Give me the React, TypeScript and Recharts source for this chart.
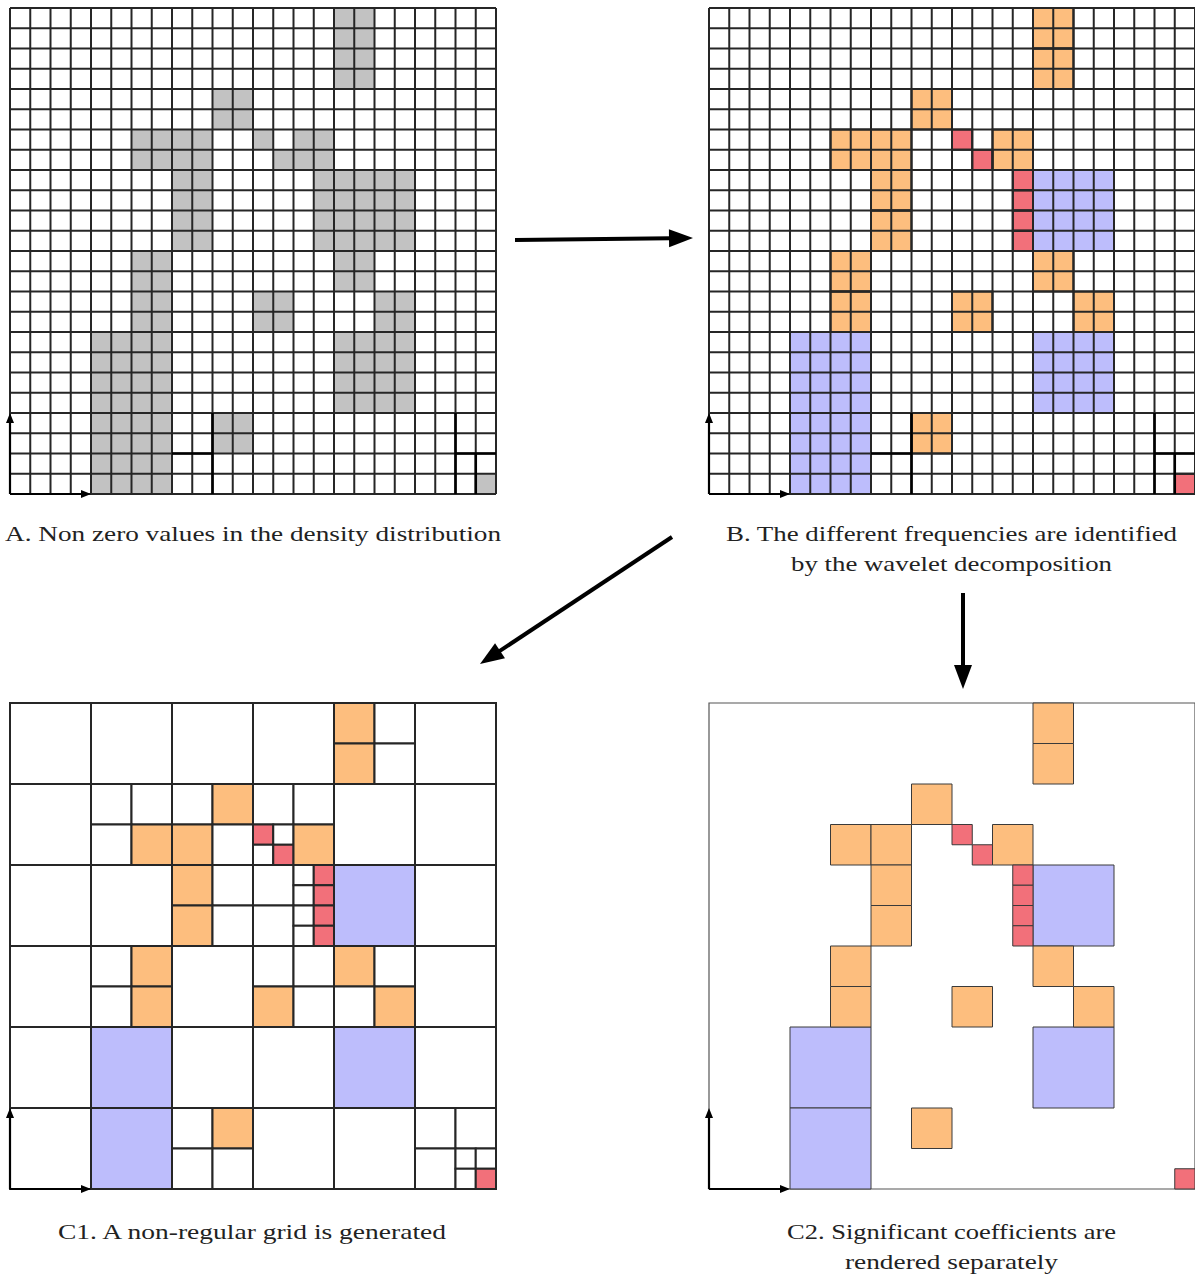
import React from 'react';
import { ComposedChart, XAxis, YAxis, ReferenceArea, ReferenceLine } from 'recharts';

// ---- data (cell units on a 24 x 24 grid, [col, row] from top-left) ----
const GRID_N = 24;
const gridTicks = Array.from({ length: GRID_N + 1 }, (_, i) => i);

// coarse coefficients (4x4 blocks, blue)
const coarseBlocks: number[][] = [[16, 8], [4, 16], [4, 20], [16, 16]];
// medium coefficients (2x2 blocks, orange)
const mediumBlocks: number[][] = [
  [16, 0], [16, 2], [10, 4], [6, 6], [8, 6], [14, 6], [8, 8], [8, 10],
  [6, 12], [6, 14], [16, 12], [12, 14], [18, 14], [10, 20],
];
// fine coefficients (1x1 cells, red)
const fineCells: number[][] = [[12, 6], [13, 7], [15, 8], [15, 9], [15, 10], [15, 11], [23, 23]];

// non-regular grid: 4x4 blocks that are split into 2x2, and 2x2 blocks split into 1x1
const split4: number[][] = [[16, 0], [4, 4], [8, 4], [12, 4], [8, 8], [12, 8], [4, 12], [12, 12], [16, 12], [8, 20], [20, 20]];
const split2: number[][] = [[12, 6], [14, 8], [14, 10], [22, 22]];

// emphasised segments visible in panels A and B ([x1,y1,x2,y2])
const emphasisSegments: number[][] = [[10, 20, 10, 24], [8, 22, 10, 22], [22, 20, 22, 24], [23, 22, 23, 24], [22, 22, 24, 22]];

const captionA = ['A. Non zero values in the density distribution'];
const captionB = ['B. The different frequencies are identified', 'by the wavelet decomposition'];
const captionC1 = ['C1. A non-regular grid is generated'];
const captionC2 = ['C2. Significant coefficients are', 'rendered separately'];

const GRAY = '#c2c2c2';
const BLUE = '#bdbdfc';
const ORANGE = '#fdbe7e';
const RED = '#f2707a';
const LINE = '#262626';

type Cell = { x: number; y: number; s: number; fill: string };

const colouredCells: Cell[] = [
  ...coarseBlocks.map(([x, y]) => ({ x, y, s: 4, fill: BLUE })),
  ...mediumBlocks.map(([x, y]) => ({ x, y, s: 2, fill: ORANGE })),
  ...fineCells.map(([x, y]) => ({ x, y, s: 1, fill: RED })),
];

const has = (list: number[][], x: number, y: number) => list.some(([a, b]) => a === x && b === y);
const colourOf = (x: number, y: number, s: number) => {
  const c = colouredCells.find((k) => k.x === x && k.y === y && k.s === s);
  return c ? c.fill : '#ffffff';
};

const leaves: Cell[] = [];
for (let by = 0; by < GRID_N; by += 4) {
  for (let bx = 0; bx < GRID_N; bx += 4) {
    if (!has(split4, bx, by)) {
      leaves.push({ x: bx, y: by, s: 4, fill: colourOf(bx, by, 4) });
      continue;
    }
    for (const dy of [0, 2]) {
      for (const dx of [0, 2]) {
        const x = bx + dx, y = by + dy;
        if (has(split2, x, y)) {
          for (const ey of [0, 1]) for (const ex of [0, 1]) leaves.push({ x: x + ex, y: y + ey, s: 1, fill: colourOf(x + ex, y + ey, 1) });
        } else {
          leaves.push({ x, y, s: 2, fill: colourOf(x, y, 2) });
        }
      }
    }
  }
}

const axisData = gridTicks.map((t) => ({ x: t, y: t }));

// ---- shapes ----
const ArrowShape = (props: any) => {
  const { x1, y1, x2, y2 } = props;
  if ([x1, y1, x2, y2].some((v) => typeof v !== 'number' || isNaN(v))) return null;
  const ang = Math.atan2(y2 - y1, x2 - x1);
  const len = 10, half = 4;
  const bx = x2 - len * Math.cos(ang), by = y2 - len * Math.sin(ang);
  const px = -Math.sin(ang) * half, py = Math.cos(ang) * half;
  return (
    <g>
      <line x1={x1} y1={y1} x2={bx} y2={by} stroke="#000" strokeWidth={2.2} />
      <polygon points={`${x2},${y2} ${bx + px},${by + py} ${bx - px},${by - py}`} fill="#000" />
    </g>
  );
};

const PAD = 6;
const SIZE = 486;

function Panel({ left, top, children }: { left: number; top: number; children: React.ReactNode }) {
  return (
    <div style={{ position: 'absolute', left: left - PAD, top: top - PAD }}>
      <ComposedChart width={SIZE + 2 * PAD} height={SIZE + 2 * PAD} margin={{ top: PAD, right: PAD, bottom: PAD, left: PAD }} data={axisData}>
        <XAxis type="number" dataKey="x" domain={[0, GRID_N]} hide allowDataOverflow />
        <YAxis type="number" dataKey="y" domain={[0, GRID_N]} reversed hide allowDataOverflow />
        {children}
      </ComposedChart>
    </div>
  );
}

const originArrows = [
  <ReferenceLine key="ay" segment={[{ x: 0, y: 24 }, { x: 0, y: 20 }]} shape={ArrowShape} ifOverflow="visible" />,
  <ReferenceLine key="ax" segment={[{ x: 0, y: 24 }, { x: 4, y: 24 }]} shape={ArrowShape} ifOverflow="visible" />,
];

const fullGrid = [
  ...gridTicks.map((t) => <ReferenceLine key={`gx${t}`} x={t} stroke={LINE} strokeWidth={2} ifOverflow="visible" />),
  ...gridTicks.map((t) => <ReferenceLine key={`gy${t}`} y={t} stroke={LINE} strokeWidth={2} ifOverflow="visible" />),
  ...emphasisSegments.map(([a, b, c, d], i) => (
    <ReferenceLine key={`em${i}`} segment={[{ x: a, y: b }, { x: c, y: d }]} stroke="#000" strokeWidth={2.6} ifOverflow="visible" />
  )),
];

function CaptionLines({ lines, cx, baseline, widths }: { lines: string[]; cx: number; baseline: number; widths: number[] }) {
  return (
    <>
      {lines.map((l, i) => (
        <text key={i} x={cx} y={baseline + i * 30} textAnchor="middle" fontFamily="'Liberation Serif', 'DejaVu Serif', serif" fontSize={22} fill="#222" textLength={widths[i]} lengthAdjust="spacingAndGlyphs">
          {l}
        </text>
      ))}
    </>
  );
}

function BigArrow({ x1, y1, x2, y2 }: { x1: number; y1: number; x2: number; y2: number }) {
  const ang = Math.atan2(y2 - y1, x2 - x1);
  const len = 24, half = 9;
  const bx = x2 - len * Math.cos(ang), by = y2 - len * Math.sin(ang);
  const px = -Math.sin(ang) * half, py = Math.cos(ang) * half;
  return (
    <g>
      <line x1={x1} y1={y1} x2={bx + 2 * Math.cos(ang)} y2={by + 2 * Math.sin(ang)} stroke="#000" strokeWidth={4} />
      <polygon points={`${x2},${y2} ${bx + px},${by + py} ${bx - px},${by - py}`} fill="#000" />
    </g>
  );
}

export default function App() {
  return (
    <div style={{ position: 'absolute', left: 0, top: 0, width: 1195, height: 1275, background: '#fff', overflow: 'hidden' }}>
      {/* A */}
      <Panel left={10} top={8}>
        {colouredCells.map((c, i) => (
          <ReferenceArea key={`a${i}`} x1={c.x} x2={c.x + c.s} y1={c.y} y2={c.y + c.s} fill={GRAY} fillOpacity={1} stroke="none" ifOverflow="visible" />
        ))}
        {fullGrid}
        {originArrows}
      </Panel>
      {/* B */}
      <Panel left={709} top={8}>
        {colouredCells.map((c, i) => (
          <ReferenceArea key={`b${i}`} x1={c.x} x2={c.x + c.s} y1={c.y} y2={c.y + c.s} fill={c.fill} fillOpacity={1} stroke="none" ifOverflow="visible" />
        ))}
        {fullGrid}
        {colouredCells.map((c, i) => (
          <ReferenceArea key={`bo${i}`} x1={c.x} x2={c.x + c.s} y1={c.y} y2={c.y + c.s} fill="none" fillOpacity={0} stroke="#1a1a1a" strokeWidth={2} ifOverflow="visible" />
        ))}
        {originArrows}
      </Panel>
      {/* C1 */}
      <Panel left={10} top={703}>
        {leaves.map((c, i) => (
          <ReferenceArea key={`c1${i}`} x1={c.x} x2={c.x + c.s} y1={c.y} y2={c.y + c.s} fill={c.fill} fillOpacity={1} stroke={LINE} strokeWidth={2} ifOverflow="visible" />
        ))}
        {originArrows}
      </Panel>
      {/* C2 */}
      <Panel left={709} top={703}>
        <ReferenceArea x1={0} x2={GRID_N} y1={0} y2={GRID_N} fill="#fff" fillOpacity={1} stroke="#555" strokeWidth={1.2} ifOverflow="visible" />
        {colouredCells.map((c, i) => (
          <ReferenceArea key={`c2${i}`} x1={c.x} x2={c.x + c.s} y1={c.y} y2={c.y + c.s} fill={c.fill} fillOpacity={1} stroke="#3a3a3a" strokeWidth={1} ifOverflow="visible" />
        ))}
        {originArrows}
      </Panel>
      {/* arrows and captions */}
      <svg width={1195} height={1275} style={{ position: 'absolute', left: 0, top: 0, pointerEvents: 'none' }}>
        <BigArrow x1={515} y1={240} x2={693} y2={238} />
        <BigArrow x1={672} y1={537} x2={480} y2={664} />
        <BigArrow x1={963} y1={593} x2={963} y2={689} />
        <CaptionLines lines={captionA} cx={253} baseline={541} widths={[496]} />
        <CaptionLines lines={captionB} cx={951.5} baseline={541} widths={[451, 321]} />
        <CaptionLines lines={captionC1} cx={252} baseline={1239} widths={[388]} />
        <CaptionLines lines={captionC2} cx={951.5} baseline={1239} widths={[329, 213]} />
      </svg>
    </div>
  );
}
